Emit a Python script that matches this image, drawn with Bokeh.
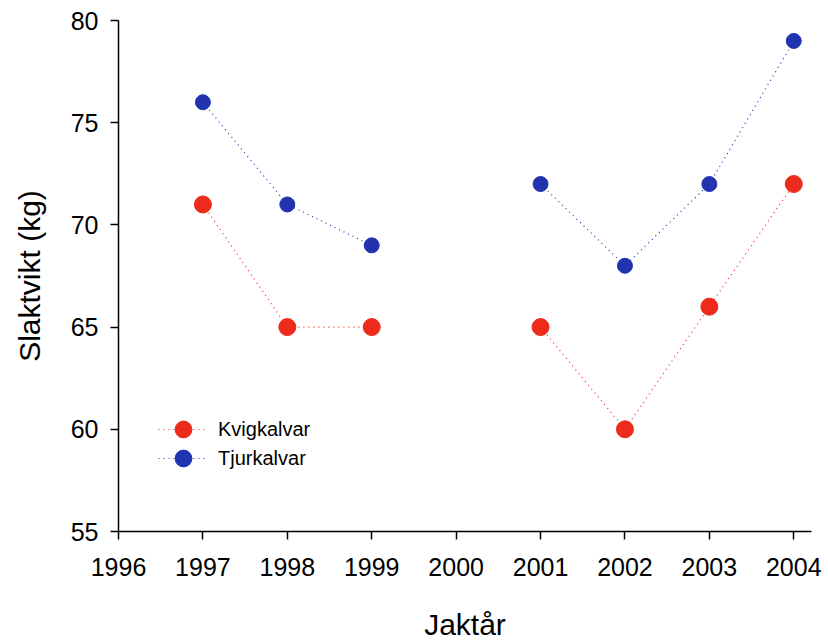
from bokeh.plotting import figure
from bokeh.models import Range1d, FixedTicker, Legend, LegendItem
from bokeh.embed import file_html
from bokeh.resources import INLINE

years = [1997, 1998, 1999, 2000, 2001, 2002, 2003, 2004]
kvigkalvar = [71, 65, 65, float("nan"), 65, 60, 66, 72]
tjurkalvar = [76, 71, 69, float("nan"), 72, 68, 72, 79]
x_ticks = [1996, 1997, 1998, 1999, 2000, 2001, 2002, 2003, 2004]
y_ticks = [55, 60, 65, 70, 75, 80]

RED = "#EC2B1C"
BLUE = "#2233B0"
FONT = "Liberation Sans"

p = figure(width=828, height=643, output_backend="svg", toolbar_location=None,
           x_range=Range1d(1996, 2004.21), y_range=Range1d(55, 80),
           min_border_left=118, min_border_top=20, min_border_right=17, min_border_bottom=111)
p.outline_line_color = None
p.xgrid.visible = False
p.ygrid.visible = False

bl = p.line(years, tjurkalvar, line_color=BLUE, line_width=1.2, line_dash="1 4")
bs = p.scatter(years, tjurkalvar, size=15, fill_color=BLUE, line_color=BLUE)
rl = p.line(years, kvigkalvar, line_color=RED, line_width=1.2, line_dash="1 4")
rs = p.scatter(years, kvigkalvar, size=17, fill_color=RED, line_color=RED)

for ax in (p.xaxis[0], p.yaxis[0]):
    ax.axis_line_width = 1.5
    ax.axis_line_color = "black"
    ax.major_tick_line_width = 1.5
    ax.major_tick_out = 8
    ax.major_tick_in = 0
    ax.minor_tick_out = 0
    ax.minor_tick_in = 0
    ax.major_label_text_font = FONT
    ax.major_label_text_font_size = "25px"
    ax.major_label_text_color = "black"
    ax.axis_label_text_font = FONT
    ax.axis_label_text_font_size = "30px"
    ax.axis_label_text_font_style = "normal"
    ax.axis_label_text_color = "black"

p.xaxis[0].ticker = FixedTicker(ticks=x_ticks)
p.yaxis[0].ticker = FixedTicker(ticks=y_ticks)
p.xaxis[0].axis_label = "Jaktår"
p.yaxis[0].axis_label = "Slaktvikt (kg)"
p.xaxis[0].major_label_standoff = 18
p.yaxis[0].major_label_standoff = 12
p.xaxis[0].axis_label_standoff = 29
p.yaxis[0].axis_label_standoff = 22


def make_legend(label, renderers, y):
    return Legend(items=[LegendItem(label=label, renderers=renderers)],
                  location=(40, y), orientation="vertical",
                  glyph_width=50, glyph_height=42, label_height=20,
                  label_standoff=10, padding=0, margin=0,
                  border_line_color=None, background_fill_alpha=0,
                  label_text_font=FONT, label_text_font_size="20px",
                  label_text_color="black")


p.add_layout(make_legend("Kvigkalvar", [rl, rs], 81), "center")
p.add_layout(make_legend("Tjurkalvar", [bl, bs], 52), "center")

open("out.html", "w").write(file_html(p, INLINE))
